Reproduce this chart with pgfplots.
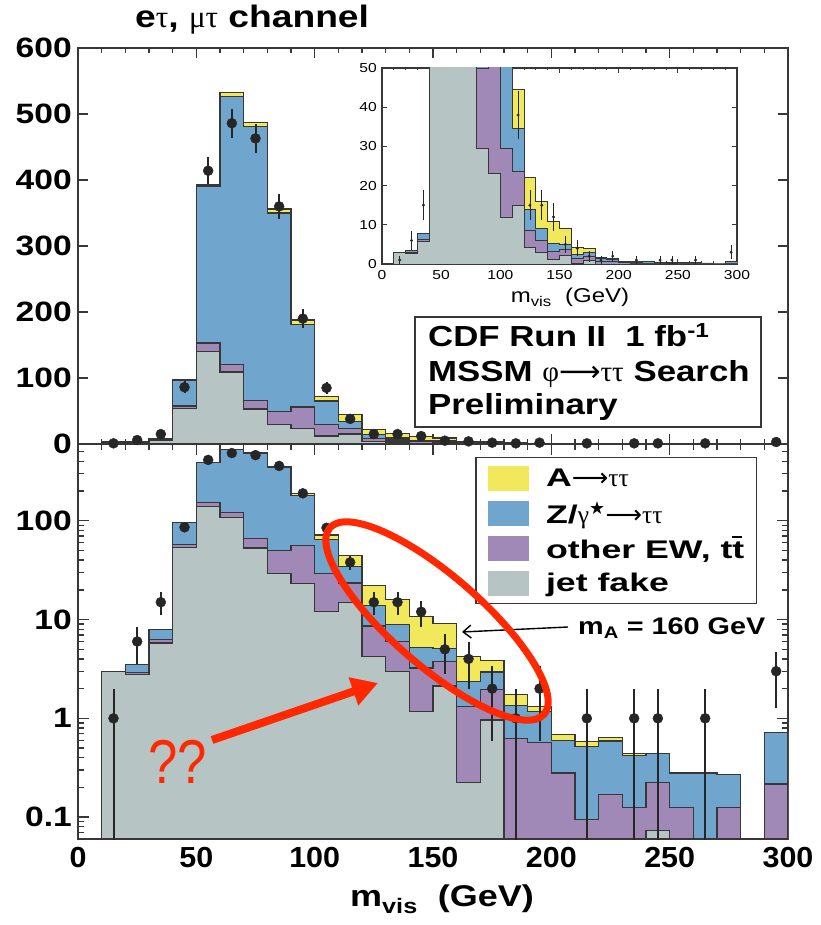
\documentclass[border=0pt]{standalone}
\usepackage{fontspec}
\setmainfont{Liberation Sans}[FakeStretch=1.2]
\newfontfamily\grk{Liberation Serif}
\newfontfamily\symf{DejaVu Sans}
\newfontfamily\xtickf{Liberation Sans}[FakeStretch=1.05]
\newfontfamily\legf{Liberation Sans}[FakeStretch=1.4]
\newfontfamily\plainsans{Liberation Sans}
\usepackage{pgfplots}
\pgfplotsset{compat=1.18}
\usepackage{pgfplotstable}
\usetikzlibrary{arrows.meta}

\definecolor{cyellow}{RGB}{242,232,92}
\definecolor{cblue}{RGB}{112,166,206}
\definecolor{cpurple}{RGB}{160,137,182}
\definecolor{cgrey}{RGB}{182,196,196}
\definecolor{cred}{RGB}{255,40,0}
\definecolor{cline}{RGB}{55,55,55}

\newcommand\gr[1]{{\grk\mdseries #1}}
\newcommand\arr{{\symf\mdseries ⟶}}
\newcommand\tbar{\rlap{\raisebox{0.78em}{\rule{0.38em}{0.08em}}}t}

% cumulative stack heights per 10 GeV bin (left edge):
% g = jet fake, p = + other EW/ttbar, b = + Z/gamma*->tautau, y = + A->tautau
\pgfplotstableread{
x    g       p       b       y
10   3       3       3       3
20   2.8     2.9     3.5     3.5
30   5.8     6.3     7.9     7.9
40   54      57.7    96      97
50   140     153     391     393
60   109     121     527     532
70   53      66      481     487
80   29.5    49.8    350     356
90   23      56      181     188
100  12      29.5    65      72
110  15      23.5    34.5    44.5
120  4.2     8.6     14      22
130  3.0     6.0     9.0     16
140  1.17    3.24    5.2     10.8
150  2.13    3.73    5.1     9.2
160  0.226   1.31    2.34    4.25
170  0.96    1.96    2.95    3.87
180  0.0001  0.62    1.36    1.76
190  0.0001  0.57    1.17    1.31
200  0.0001  0.28    0.60    0.68
210  0.0001  0.094   0.52    0.58
220  0.0001  0.17    0.59    0.64
230  0.0001  0.126   0.42    0.44
240  0.073   0.226   0.44    0.44
250  0.0001  0.126   0.28    0.28
260  0.0001  0.04    0.28    0.28
270  0.0001  0.126   0.27    0.27
280  0.0001  0.0001  0.0001  0.0001
290  0.0001  0.216   0.72    0.72
300  0.0001  0.216   0.72    0.72
}\stack

% observed events per bin with Poisson errors
\pgfplotstableread{
x    n    ep     em
15   1    1      0.999
25   6    2.45   2.45
35   15   3.87   3.87
45   86   9.3    9.3
55   414  20.3   20.3
65   486  22     22
75   463  21.5   21.5
85   360  19     19
95   190  13.8   13.8
105  85   9.2    9.2
115  38   6.2    6.2
125  15   3.9    3.9
135  15   3.9    3.9
145  12   3.5    3.5
155  5    2.2    2.2
165  4    2      2
175  2    1.41   1.41
185  1    1      0.999
195  2    1.41   1.41
215  1    1      0.999
235  1    1      0.999
245  1    1      0.999
265  1    1      0.999
295  3    1.73   1.73
}\events

\tikzset{
  stepfill/.style={const plot mark left, mark=none, draw=cline, line width=1.2pt},
  thinstep/.style={const plot mark left, mark=none, draw=cline, line width=0.8pt},
}
\pgfplotsset{
  panel/.style={
    scale only axis, width=710pt, xmin=0, xmax=300,
    axis line style={draw=cline, line width=1.6pt},
    tick style={draw=cline, line width=1.3pt},
    major tick length=10pt, minor tick length=5pt,
    xtick={0,50,...,300}, minor xtick={10,20,...,290},
    yticklabel style={font=\fontsize{28}{29}\selectfont\bfseries, inner sep=0pt, xshift=-6pt},
    xticklabel style={font=\fontsize{29}{30}\selectfont\xtickf\bfseries, inner sep=0pt, yshift=-8pt},
  },
  evt/.style={only marks, mark=*, mark size=5pt, color=black!85,
    error bars/y dir=both, error bars/y explicit, error bars/error mark=none,
    error bars/error bar style={line width=2pt, color=black!85}},
  smallevt/.style={only marks, mark=*, mark size=1.3pt, color=black!85,
    error bars/y dir=both, error bars/y explicit, error bars/error mark=none,
    error bars/error bar style={line width=0.8pt, color=black!85}},
}

\begin{document}
\begin{tikzpicture}
\useasboundingbox (0,0) rectangle (820pt,925pt);

% ---------- lower panel, logarithmic ----------
\begin{axis}[panel, at={(78pt,86pt)}, anchor=south west, height=395pt,
  ymode=log, log origin y=infty, ymin=0.06, ymax=600,
  ytick={0.1,1,10,100}, yticklabels={0.1,1,10,100},
  minor ytick={0.07,0.08,0.09,0.2,0.3,0.4,0.5,0.6,0.7,0.8,0.9,2,3,4,5,6,7,8,9,20,30,40,50,60,70,80,90,200,300,400,500},
  major tick length=11pt, minor tick length=6pt,
  xticklabels={0,50,100,150,200,250,300},
  legend style={at={(1,1)}, anchor=north east, xshift=-31pt, yshift=-13pt,
    draw=cline, line width=1.3pt, fill=white,
    font=\fontsize{25.5}{26}\selectfont\legf\bfseries,
    inner xsep=12pt, inner ysep=8pt, row sep=10pt, column sep=17pt,
    nodes={inner sep=0pt}},
  legend cell align=left,
  legend image code/.code={\fill[#1, draw=none] (0pt,-12.5pt) rectangle (41pt,12.5pt);},
]
\addplot[stepfill, fill=cyellow] table[x=x, y=y]{\stack} \closedcycle;
\addlegendentry{A\arr\gr{ττ}}
\addplot[stepfill, fill=cblue] table[x=x, y=b]{\stack} \closedcycle;
\addlegendentry{Z/\gr{γ}\textsuperscript{\symf\mdseries ★}\arr\gr{ττ}}
\addplot[stepfill, fill=cpurple] table[x=x, y=p]{\stack} \closedcycle;
\addlegendentry{other EW, t\tbar}
\addplot[stepfill, fill=cgrey] table[x=x, y=g]{\stack} \closedcycle;
\addlegendentry{jet fake}
\addplot[forget plot, evt] table[x=x, y=n, y error plus=ep, y error minus=em]{\events};
\end{axis}

% ---------- upper panel, linear ----------
\begin{axis}[panel, at={(78pt,481pt)}, anchor=south west, height=396pt,
  ymin=0, ymax=600, ytick={0,100,...,600},
  yticklabels={0,100,200,300,400,500,600},
  xticklabels=\empty,
]
\addplot[stepfill, fill=cyellow] table[x=x, y=y]{\stack} \closedcycle;
\addplot[stepfill, fill=cblue] table[x=x, y=b]{\stack} \closedcycle;
\addplot[stepfill, fill=cpurple] table[x=x, y=p]{\stack} \closedcycle;
\addplot[stepfill, fill=cgrey] table[x=x, y=g]{\stack} \closedcycle;
\addplot[evt] table[x=x, y=n, y error plus=ep, y error minus=em]{\events};
\end{axis}

% ---------- inset, zoom on the low-count region ----------
\begin{axis}[scale only axis, at={(382pt,661pt)}, anchor=south west,
  width=355pt, height=196pt,
  xmin=0, xmax=300, ymin=0, ymax=50,
  axis background/.style={fill=white},
  axis line style={draw=cline, line width=1.4pt},
  tick style={draw=cline, line width=0.9pt},
  major tick length=5pt, minor tick length=2.5pt,
  xtick={0,50,...,300}, minor xtick={10,20,...,290}, ytick={0,10,...,50},
  xticklabels={0,50,100,150,200,250,300}, yticklabels={0,10,20,30,40,50},
  yticklabel style={font=\fontsize{13}{14}\selectfont, inner sep=0pt, xshift=-5pt},
  xticklabel style={font=\fontsize{13}{14}\selectfont, inner sep=0pt, yshift=-6pt},
]
\addplot[thinstep, fill=cyellow] table[x=x, y=y]{\stack} \closedcycle;
\addplot[thinstep, fill=cblue] table[x=x, y=b]{\stack} \closedcycle;
\addplot[thinstep, fill=cpurple] table[x=x, y=p]{\stack} \closedcycle;
\addplot[thinstep, fill=cgrey] table[x=x, y=g]{\stack} \closedcycle;
\addplot[smallevt] table[x=x, y=n, y error plus=ep, y error minus=em]{\events};
\end{axis}

% ---------- titles and labels ----------
\node[anchor=base west, inner sep=0pt, font=\fontsize{31}{32}\selectfont\bfseries] at (135pt,897pt)
  {e\gr{τ}, \gr{μτ} channel};
\node[anchor=base, font=\fontsize{20}{21}\selectfont] at (570pt,622pt)
  {m\textsubscript{vis}~~(GeV)};
\node[anchor=base, font=\fontsize{30}{31}\selectfont\bfseries] at (442pt,18pt)
  {m\textsubscript{vis}~~(GeV)};

% ---------- run information box ----------
\draw[cline, line width=1.6pt, fill=white] (415pt,498pt) rectangle (761pt,608pt);
\node[anchor=base west, inner sep=0pt, font=\fontsize{29}{30}\selectfont\bfseries] at (428pt,578pt)
  {CDF Run II~~1 fb\textsuperscript{-1}};
\node[anchor=base west, inner sep=0pt, font=\fontsize{29}{30}\selectfont\bfseries] at (428pt,543pt)
  {MSSM \gr{φ}\arr\gr{ττ} Search};
\node[anchor=base west, inner sep=0pt, font=\fontsize{29}{30}\selectfont\bfseries] at (428pt,510pt)
  {Preliminary};

% ---------- signal mass annotation ----------
\node[anchor=base west, inner sep=0pt, font=\fontsize{24}{25}\selectfont\bfseries] at (578pt,290pt)
  {m\textsubscript{A} = 160 GeV};
\draw[black, line width=1.4pt, -{Straight Barb[length=8pt,width=13pt]}] (568pt,298pt) -- (462pt,293pt);

% ---------- hand-drawn highlight ----------
\draw[cred, line width=7pt, rotate around={-41:(437pt,304pt)}]
  (437pt,304pt) ellipse [x radius=142pt, y radius=45pt];
\draw[cred, line width=8pt, -{Triangle[length=26pt,width=28pt]}] (212pt,185pt) -- (378pt,242pt);
\node[cred, inner sep=0pt, font=\fontsize{62}{64}\selectfont\plainsans] at (178pt,163pt)
  {\scalebox{0.85}[1]{??}};
\end{tikzpicture}
\end{document}
